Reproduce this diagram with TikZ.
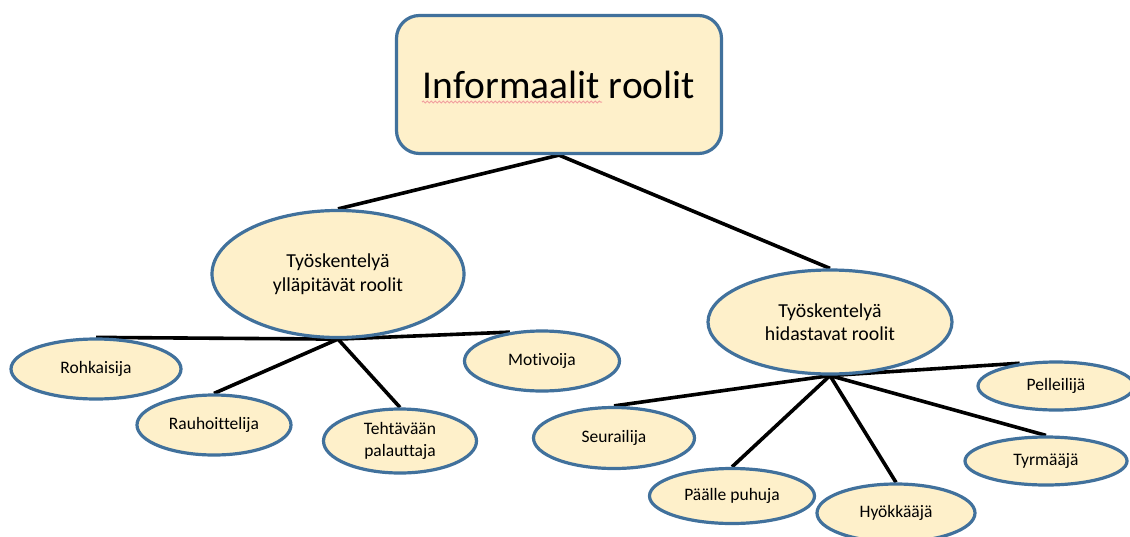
\documentclass[tikz,border=0pt]{standalone}
\usepackage{fontspec}
\setmainfont{Carlito}[Ligatures=NoCommon]
\usetikzlibrary{shapes.geometric,backgrounds,decorations.pathmorphing}

\definecolor{nodefill}{HTML}{FEF0CA}
\definecolor{nodeline}{HTML}{41719C}
\definecolor{spellred}{HTML}{F2A0A0}

\tikzset{
  rolebox/.style={draw=nodeline, fill=nodefill, line width=3.2pt, rounded corners=23pt,
    minimum width=325pt, minimum height=138pt, inner sep=0pt,
    font=\fontsize{39.5}{46}\selectfont},
  groupoval/.style={ellipse, draw=nodeline, fill=nodefill, line width=3.2pt, inner sep=0pt,
    align=center, font=\fontsize{19.8}{23.5}\selectfont},
  roleoval/.style={ellipse, draw=nodeline, fill=nodefill, line width=3.2pt, inner sep=0pt,
    align=center, font=\fontsize{17.5}{22}\selectfont},
  link/.style={draw=black, line width=3.6pt}
}

\begin{document}
\begin{tikzpicture}[x=1pt, y=-1pt]
  \clip (0,0) rectangle (1130,536);

  % root
  \node[rolebox] (root) at (559,84.5) {Informaalit roolit};
  \draw[spellred, line width=1pt, decorate,
        decoration={snake, amplitude=0.9pt, segment length=4pt}]
        (422,102) -- (602,102);

  % the two groups
  \node[groupoval, minimum width=252pt, minimum height=127pt] (keep) at (338,274)
    {Työskentelyä\\ylläpitävät roolit};
  \node[groupoval, minimum width=244pt, minimum height=104pt] (slow) at (830,322)
    {Työskentelyä\\hidastavat roolit};

  % roles that keep the work going
  \node[roleoval, minimum width=170pt, minimum height=60pt] (rohk) at (96,369) {Rohkaisija};
  \node[roleoval, minimum width=154pt, minimum height=60pt] (rauh) at (214,425) {Rauhoittelija};
  \node[roleoval, minimum width=153pt, minimum height=64pt] (teht) at (400,441) {Tehtävään\\palauttaja};
  \node[roleoval, minimum width=155pt, minimum height=60pt] (moti) at (542,361) {Motivoija};

  % roles that slow the work down
  \node[roleoval, minimum width=161pt, minimum height=61pt] (seur) at (614,438) {Seurailija};
  \node[roleoval, minimum width=165pt, minimum height=55pt] (paal) at (732,496) {Päälle puhuja};
  \node[roleoval, minimum width=158pt, minimum height=58pt] (hyok) at (896,513) {Hyökkääjä};
  \node[roleoval, minimum width=156pt, minimum height=48pt] (pell) at (1056,386) {Pelleilijä};
  \node[roleoval, minimum width=162pt, minimum height=48pt] (tyrm) at (1046,461) {Tyrmääjä};

  % white page and connectors, below the shapes
  \begin{scope}[on background layer]
    \fill[white] (0,0) rectangle (1130,536);

    \draw[link] (root.south) -- (keep.north);
    \draw[link] (root.south) -- (slow.north);

    \draw[link] (keep.south) -- (rohk.north);
    \draw[link] (keep.south) -- (rauh.north);
    \draw[link] (keep.south) -- (teht.north);
    \draw[link] (keep.south) -- (moti.138);

    \draw[link] (slow.south) -- (seur.north);
    \draw[link] (slow.south) -- (paal.north);
    \draw[link] (slow.south) -- (hyok.north);
    \draw[link] (slow.south) -- (tyrm.north);
    \draw[link] (slow.south) -- (pell.148);
  \end{scope}
\end{tikzpicture}
\end{document}
